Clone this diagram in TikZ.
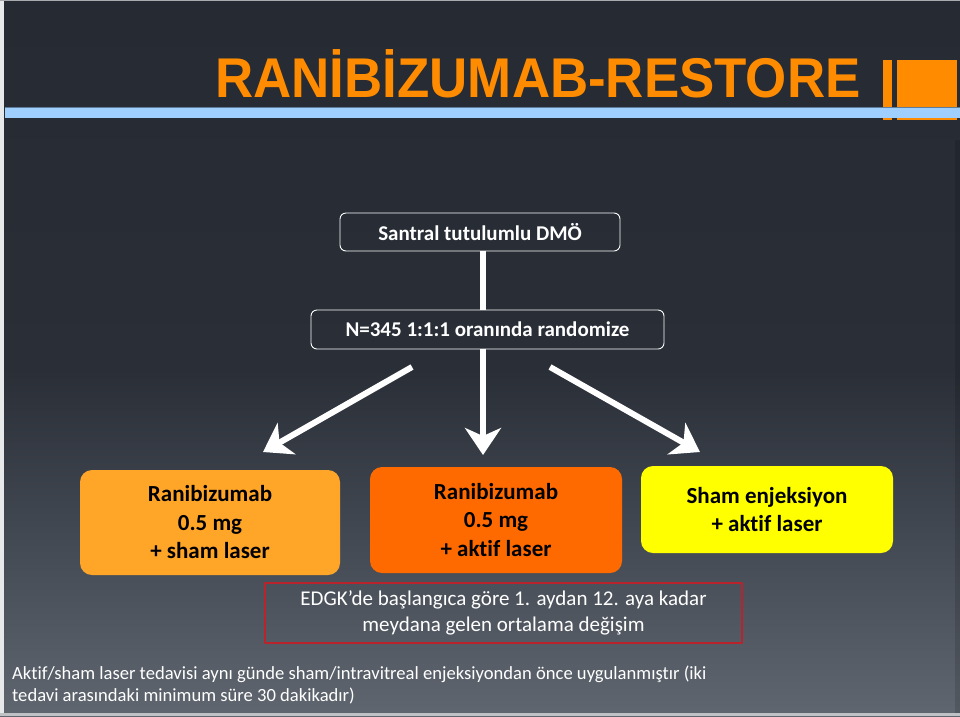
\documentclass[tikz,border=0pt]{standalone}
\usepackage{fontspec}
\setmainfont{Carlito}[Ligatures=NoCommon]
\newfontfamily\titlefont{Liberation Sans}
\usetikzlibrary{arrows.meta}

\definecolor{bgtop}{HTML}{252A33}
\definecolor{bgmid}{HTML}{292E37}
\definecolor{bgbot}{HTML}{5F666F}
\definecolor{titleorange}{HTML}{FF8C00}
\definecolor{barblue}{HTML}{9FCFFF}
\definecolor{armAfill}{HTML}{FFA629}
\definecolor{armBfill}{HTML}{FF6A00}
\definecolor{armCfill}{HTML}{FFFF00}
\definecolor{outcomered}{HTML}{B9232C}

\tikzset{
  flowbox/.style={draw=white,line width=0.9pt,rounded corners=6pt,text=white,
    font=\bfseries\fontsize{21}{25}\selectfont},
  armbox/.style={rounded corners=12pt,text=black,align=center,
    font=\bfseries\fontsize{23}{28.5}\selectfont},
  outcomebox/.style={draw=outcomered,line width=1.4pt,text=white,align=center,
    font=\fontsize{21}{26}\selectfont},
  link/.style={white,line width=6pt},
  flowarrow/.style={white,line width=6pt,-{Stealth[length=27pt,width=36pt,inset=8pt]}}
}

\begin{document}
\begin{tikzpicture}[x=1pt,y=-1pt,line join=round]
  \useasboundingbox (0,0) rectangle (960,716);
  % background
  \shade[top color=bgtop,bottom color=bgmid] (0,0) rectangle (960,370);
  \shade[top color=bgmid,bottom color=bgbot] (0,369) rectangle (960,716);
  \fill[white!85!bgbot] (0,0) rectangle (4,716);
  \fill[white!60!bgtop] (0,0) rectangle (960,1.2);
  \fill[white!60!bgbot] (0,712.5) rectangle (960,716);
  \fill[black,opacity=0.12] (955,140) rectangle (960,712.5);

  % title and bars
  \fill[titleorange] (883,60) rectangle (892,120);
  \fill[titleorange] (897,60) rectangle (957,120);
  \fill[barblue] (5,107) rectangle (960,118);
  \draw[barblue!60!black,line width=0.6pt] (5,107) -- (960,107);
  \node[anchor=base,text=titleorange,inner sep=0pt,font=\titlefont\bfseries\fontsize{56}{56}\selectfont]
    (title) at (538,97) {\scalebox{0.944}[1]{RANİBİZUMAB-RESTORE}};

  % flow
  \coordinate (hub) at (483,0);
  \node[flowbox,minimum width=280pt,minimum height=38pt] (pop) at (480,232) {Santral tutulumlu DMÖ};
  \node[flowbox,minimum width=353pt,minimum height=39pt] (rand) at (487.5,329.5) {N=345 1:1:1 oranında randomize};
  \draw[link] (pop.south -| hub) -- (rand.north -| hub);

  \coordinate (la) at (412,367);
  \coordinate (lb) at (263,452);
  \coordinate (ma) at (rand.south -| hub);
  \coordinate (mb) at (483,455);
  \coordinate (ra) at (550,367);
  \coordinate (rb) at (700,452);
  \foreach \from/\to in {la/lb,ma/mb,ra/rb}
    \draw[flowarrow] (\from) -- (\to);

  % arms
  \node[armbox,fill=armAfill,minimum width=260pt,minimum height=105pt] (armA) at (210,522.5)
    {Ranibizumab\\0.5 mg\\+ sham laser};
  \node[armbox,fill=armBfill,minimum width=252pt,minimum height=106pt] (armB) at (496,520)
    {Ranibizumab\\0.5 mg\\+ aktif laser};
  \node[armbox,fill=armCfill,minimum width=252pt,minimum height=87pt] (armC) at (767,509.5)
    {Sham enjeksiyon\\+ aktif laser};

  % outcome
  \node[outcomebox,minimum width=477pt,minimum height=60pt] (outcome) at (503.5,613)
    {EDGK’de başlangıca göre 1. aydan 12. aya kadar\\meydana gelen ortalama değişim};

  % footnote
  \node[anchor=north west,inner sep=0pt,text=white,align=left,font=\fontsize{18.6}{22}\selectfont]
    (note) at (12,666)
    {Aktif/sham laser tedavisi aynı günde sham/intravitreal enjeksiyondan önce uygulanmıştır (iki\\
     tedavi arasındaki minimum süre 30 dakikadır)};
\end{tikzpicture}
\end{document}
